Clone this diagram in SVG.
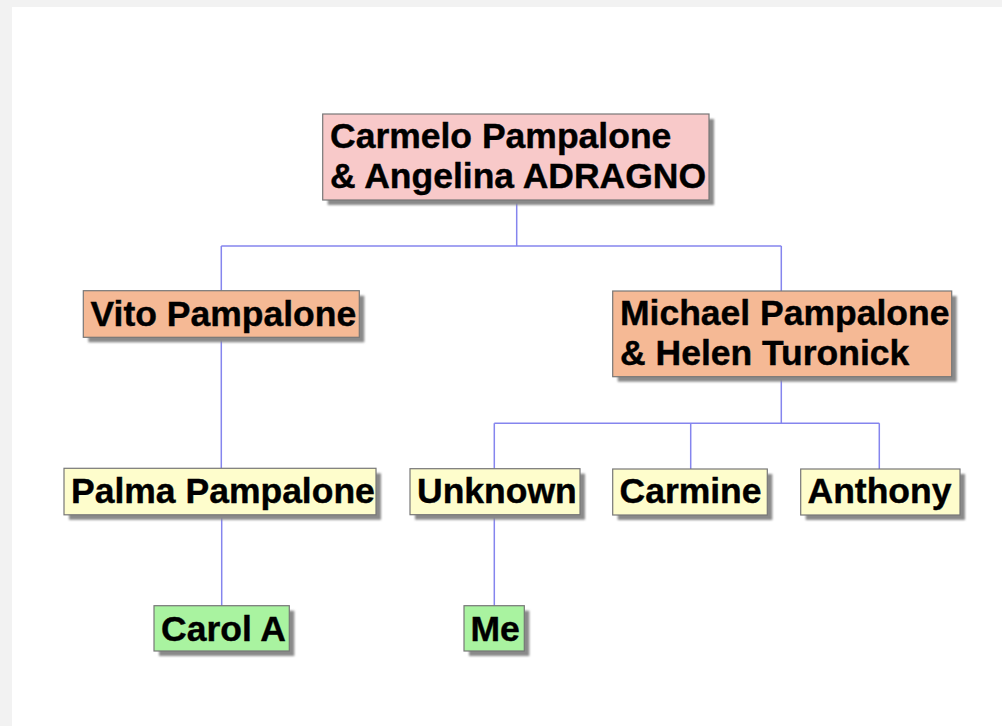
<svg xmlns="http://www.w3.org/2000/svg" width="1002" height="726" viewBox="0 0 1002 726">
<defs>
<filter id="sh" x="-10%" y="-10%" width="130%" height="150%"><feGaussianBlur stdDeviation="1.2"/></filter>
</defs>
<style>
.box{stroke:#777;stroke-width:1.2}
.shadow{fill:#8a8a8a;filter:url(#sh)}
.pink{fill:#f8c9c9}
.orange{fill:#f5b995}
.yellow{fill:#fefdcc}
.green{fill:#a9f3a0}
text{font-family:"Liberation Sans",Arial,sans-serif;font-weight:bold;font-size:35.5px;fill:#000;stroke:#000;stroke-width:0.4}
.conn{stroke:#8585ee;stroke-width:1.5;fill:none}
</style>
<rect x="0" y="0" width="1002" height="726" fill="#f2f2f2"/>
<rect x="12" y="7" width="990" height="719" fill="#ffffff"/>
<g id="connectors">
<path class="conn" d="M516.7,200 V246 M221.3,246 H781.3 M221.3,246 V290.7 M781.3,246 V291"/>
<path class="conn" d="M221.3,337.3 V468.3 M221.7,515 V605.7"/>
<path class="conn" d="M781.3,376.7 V423.3 M494.3,423.3 H879.3 M494.3,423.3 V468.7 M690.7,423.3 V469 M879.3,423.3 V469"/>
<path class="conn" d="M494.3,514.7 V605.7"/>
</g>
<g id="n-carmelo">
<rect class="shadow" x="327.7" y="119" width="386.3" height="86"/>
<rect class="box pink" x="322.7" y="114" width="386.3" height="86"/>
<text x="330" y="147.5">Carmelo Pampalone</text>
<text x="330" y="187.5">&amp; Angelina ADRAGNO</text>
</g>
<g id="n-vito">
<rect class="shadow" x="88.3" y="295.7" width="276" height="46.6"/>
<rect class="box orange" x="83.3" y="290.7" width="276" height="46.6"/>
<text x="90.5" y="326">Vito Pampalone</text>
</g>
<g id="n-michael">
<rect class="shadow" x="617.7" y="296" width="339" height="85.7"/>
<rect class="box orange" x="612.7" y="291" width="339" height="85.7"/>
<text x="620" y="325">Michael Pampalone</text>
<text x="620" y="365">&amp; Helen Turonick</text>
</g>
<g id="n-palma">
<rect class="shadow" x="69" y="473.3" width="312" height="46.5"/>
<rect class="box yellow" x="64" y="468.3" width="312" height="46.5"/>
<text x="71" y="503">Palma Pampalone</text>
</g>
<g id="n-unknown">
<rect class="shadow" x="415" y="473.7" width="170" height="46"/>
<rect class="box yellow" x="410" y="468.7" width="170" height="46"/>
<text x="417" y="503">Unknown</text>
</g>
<g id="n-carmine">
<rect class="shadow" x="617.7" y="474" width="154.6" height="46"/>
<rect class="box yellow" x="612.7" y="469" width="154.6" height="46"/>
<text x="619.5" y="503">Carmine</text>
</g>
<g id="n-anthony">
<rect class="shadow" x="805.7" y="474" width="159.3" height="46"/>
<rect class="box yellow" x="800.7" y="469" width="159.3" height="46"/>
<text x="807.5" y="503">Anthony</text>
</g>
<g id="n-carol">
<rect class="shadow" x="159" y="610.7" width="135.3" height="45.3"/>
<rect class="box green" x="154" y="605.7" width="135.3" height="45.3"/>
<text x="161" y="641">Carol A</text>
</g>
<g id="n-me">
<rect class="shadow" x="469" y="610.7" width="60.3" height="45.3"/>
<rect class="box green" x="464" y="605.7" width="60.3" height="45.3"/>
<text x="470.5" y="641">Me</text>
</g>
</svg>
